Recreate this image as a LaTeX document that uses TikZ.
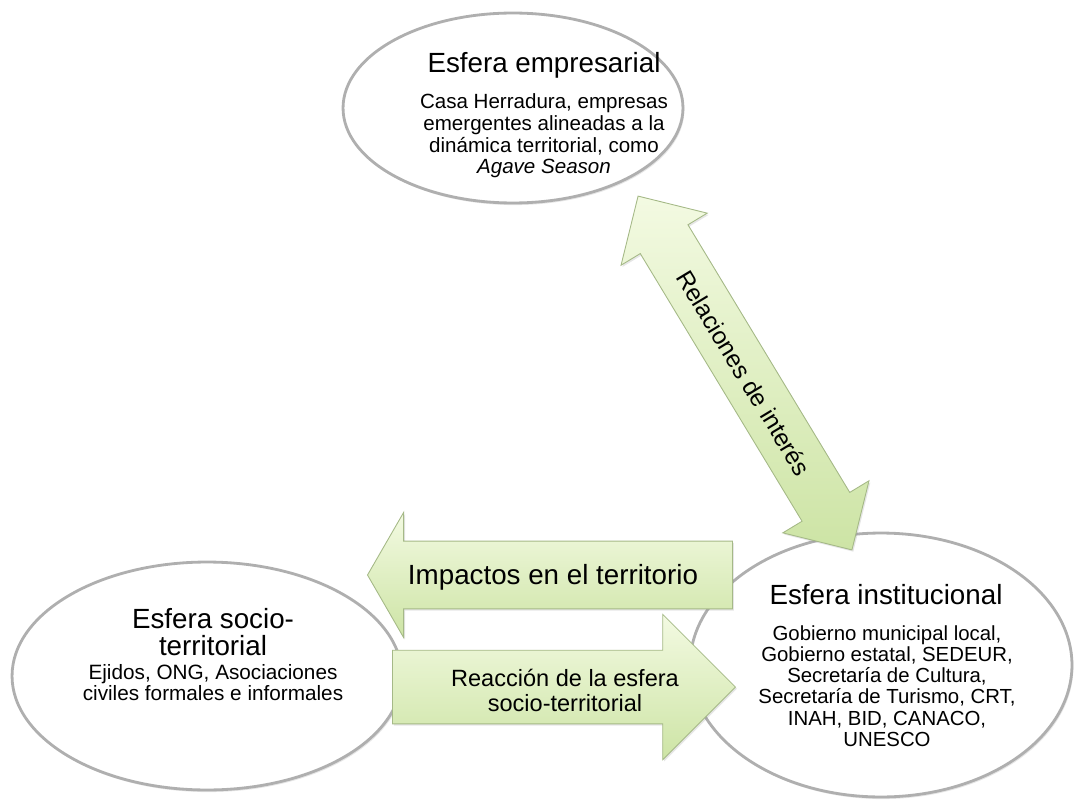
\documentclass[tikz,border=0pt]{standalone}
\usepackage{fontspec}
\setmainfont{Liberation Sans}
\usetikzlibrary{positioning,shapes,shapes.arrows,shadows}
\definecolor{mylight}{RGB}{243,250,226}
\definecolor{mygreen}{RGB}{205,228,165}
\definecolor{myedge}{RGB}{165,185,135}
\definecolor{mygray}{RGB}{175,175,175}

\begin{document}
\begin{tikzpicture}[x=0.02cm,y=-0.02cm,
	esnode/.style={ellipse,draw=mygray,line width=1.6pt,fill=white,inner sep=0pt,
		drop shadow={opacity=0.2,shadow xshift=0.8pt,shadow yshift=-1.2pt}},
	arnode/.style={draw=myedge,line width=0.5pt,top color=mylight,bottom color=mygreen,
		inner xsep=0pt,drop shadow={opacity=0.2,shadow xshift=0.8pt,shadow yshift=-1pt}},
	titnode/.style={font=\fontsize{15.8}{17}\selectfont,align=center,inner sep=0pt},
	txtnode/.style={font=\fontsize{11.7}{12.3}\selectfont,align=center,inner sep=0pt},
	]
	\useasboundingbox (0,0) rectangle (1078,804);

	% the spheres
	\node[esnode,minimum width=6.8cm,minimum height=3.8cm] (emp) at (513,108) {};
	\node[esnode,minimum width=7.8cm,minimum height=4.56cm] (soc) at (207,676) {};
	\node[esnode,minimum width=7.64cm,minimum height=5.28cm] (ins) at (881,665) {};

	% the texts of the spheres
	\node[titnode] (emp-t) at (544,65) {Esfera empresarial};
	\node[txtnode] (emp-x) at (544,136) {Casa Herradura, empresas\\emergentes alineadas a la\\dinámica territorial, como\\\textit{Agave Season}};

	\node[titnode,font=\fontsize{15.8}{15.4}\selectfont] (soc-t) at (213,632) {Esfera socio-\\territorial};
	\node[txtnode,font=\fontsize{11.8}{10.4}\selectfont] (soc-x) at (213,683) {Ejidos, ONG, Asociaciones\\civiles formales e informales};

	\node[titnode] (ins-t) at (886,595) {Esfera institucional};
	\node[txtnode,font=\fontsize{11.6}{12.1}\selectfont] (ins-x) at (887,686) {Gobierno municipal local,\\Gobierno estatal, SEDEUR,\\Secretaría de Cultura,\\Secretaría de Turismo, CRT,\\INAH, BID, CANACO,\\UNESCO};

	% the arrows
	\node[arnode,double arrow,rotate=-58.85,minimum height=8.27cm,
		double arrow head extend=12.8pt,inner ysep=15.6pt] (rel) at (745,373) {};
	\node[arnode,single arrow,shape border rotate=180,anchor=tip,minimum height=7.3cm,
		single arrow head extend=16.4pt,single arrow tip angle=120,inner ysep=19pt] (imp) at (367,575) {};
	\node[arnode,single arrow,anchor=tail,minimum height=6.86cm,
		single arrow head extend=20.4pt,inner ysep=20.7pt] (rea) at (392,687) {};

	% the texts of the arrows
	\node[titnode,rotate=-58.85,font=\fontsize{13.9}{15}\selectfont] (rel-t) at (744,373) {Relaciones de interés};
	\node[titnode] (imp-t) at (553,577) {Impactos en el territorio};
	\node[titnode,font=\fontsize{13.4}{14.2}\selectfont] (rea-t) at (565,690) {Reacción de la esfera\\socio-territorial};
\end{tikzpicture}
\end{document}
